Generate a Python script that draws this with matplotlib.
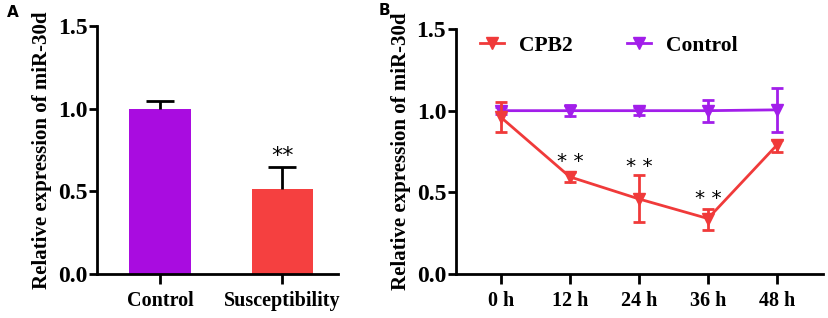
import matplotlib
matplotlib.use("Agg")
import matplotlib.pyplot as plt
from matplotlib.lines import Line2D
import numpy as np

plt.rcParams['font.family'] = 'Liberation Serif'
plt.rcParams['font.weight'] = 'bold'

# panel A data
groups = ['Control', 'Susceptibility']
bar_vals = [1.0, 0.515]
bar_err = [0.045, 0.132]
bar_colors = ['#A90CE0', '#F54040']

# panel B data
times = ['0 h', '12 h', '24 h', '36 h', '48 h']
cpb2 = [0.96, 0.595, 0.46, 0.34, 0.79]
cpb2_lo = [0.09, 0.03, 0.14, 0.07, 0.04]
cpb2_hi = [0.095, 0.03, 0.145, 0.06, 0.03]
ctrl = [1.0, 1.0, 1.0, 1.0, 1.005]
ctrl_err = [0.02, 0.035, 0.025, 0.068, 0.135]
stars_idx = [1, 2, 3]
stars_y = [0.69, 0.66, 0.46]

red = '#F03A3A'
purple = '#A21EEA'

fig = plt.figure(figsize=(8.29, 3.18), dpi=100)

axA = fig.add_axes([0.117, 0.138, 0.291, 0.78])
axB = fig.add_axes([0.550, 0.138, 0.443, 0.771])

for ax in (axA, axB):
    ax.spines['top'].set_visible(False)
    ax.spines['right'].set_visible(False)
    ax.spines['left'].set_linewidth(2)
    ax.spines['bottom'].set_linewidth(2)
    ax.tick_params(width=2)
    ax.tick_params(axis='y', length=6, pad=1, labelsize=17)
    ax.set_ylim(0, 1.5)
    ax.set_yticks([0, 0.5, 1.0, 1.5])
    ax.set_yticklabels(['0.0', '0.5', '1.0', '1.5'])
    ax.set_ylabel('Relative expression of miR-30d', fontsize=15, fontweight='bold', labelpad=4)

# ---- A
x = np.arange(len(groups))
tops = np.array(bar_vals) + np.array(bar_err)
axA.bar(x, bar_vals, width=0.5, color=bar_colors, zorder=2)
axA.vlines(x, bar_vals, tops, color='k', lw=2, zorder=3)
axA.hlines(tops, x - 0.115, x + 0.115, color='k', lw=2, zorder=3)
axA.text(x[1], tops[1] + 0.005, '**', ha='center', va='bottom',
         fontsize=16, family='DejaVu Sans', fontweight='normal')
axA.set_xlim(-0.516, 1.46)
axA.set_xticks(x)
axA.set_xticklabels(groups)
axA.tick_params(axis='x', length=7, pad=5, labelsize=14.5)

# ---- B
t = np.arange(len(times))
axB.errorbar(t, ctrl, yerr=ctrl_err, color=purple, lw=2, marker='v', ms=8,
             capsize=4.5, capthick=2, elinewidth=2, zorder=3)
axB.errorbar(t, cpb2, yerr=[cpb2_lo, cpb2_hi], color=red, lw=2, marker='v', ms=8,
             capsize=4.5, capthick=2, elinewidth=2, zorder=4)
for i, yy in zip(stars_idx, stars_y):
    axB.text(t[i], yy, '* *', ha='center', va='center', fontsize=14.5,
             family='DejaVu Sans', fontweight='normal')
axB.set_xlim(-0.65, 4.67)
axB.set_xticks(t)
axB.set_xticklabels(times)
axB.tick_params(axis='x', length=7, pad=5, labelsize=14.5)
handles = [Line2D([], [], color=red, lw=2, marker='v', ms=8),
           Line2D([], [], color=purple, lw=2, marker='v', ms=8)]
axB.legend(handles, ['CPB2', 'Control'], loc='center left', ncol=2, frameon=False,
           fontsize=15.5, bbox_to_anchor=(0.065, 0.931), borderaxespad=0,
           borderpad=0, columnspacing=2.55, handlelength=1.1, handletextpad=0.7)

fig.text(0.0085, 0.947, 'A', fontsize=11, family='DejaVu Sans', fontweight='bold')
fig.text(0.457, 0.952, 'B', fontsize=11, family='DejaVu Sans', fontweight='bold')

fig.savefig('out.png', dpi=100)
